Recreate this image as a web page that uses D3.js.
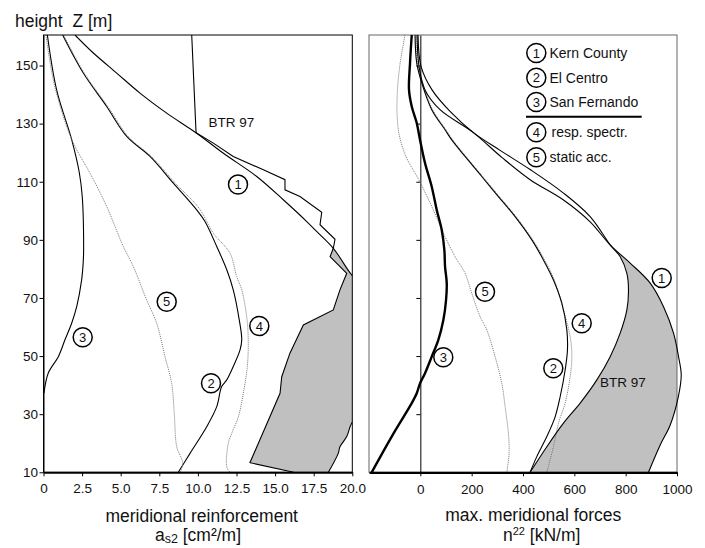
<!DOCTYPE html>
<html>
<head>
<meta charset="utf-8">
<script src="https://cdn.jsdelivr.net/npm/d3@7"></script>
<style>
  body { margin: 0; background: #fff; }
  svg { display: block; font-family: "Liberation Sans", Arial, sans-serif; }
</style>
</head>
<body>
<svg width="705" height="548"></svg>
<script>
// Heights (Z in m) and tick values
var zTicks = [10, 30, 50, 70, 90, 110, 130, 150];
var leftXTicks = [0, 2.5, 5, 7.5, 10, 12.5, 15, 17.5, 20];
var rightXTicks = [0, 200, 400, 600, 800, 1000];

// Left panel: meridional reinforcement a_s2 [cm2/m], pairs [value, Z]
var leftKern = [[2.04,160.5],[3.23,154.3],[4.74,147.4],[6.25,140.5],[7.98,133.6],[9.92,126.7],[11.65,119.8],[13.81,111.8],[15.53,103.8],[17.05,96.3],[17.69,92.9],[18.77,87.1],[19.96,77.9],[21.3,70],[22.3,58],[22.5,48],[21.8,36],[20.4,29],[19.96,26.9],[19.64,22.3],[19.2,18.8],[19.09,16.5],[18.45,10]];
var leftElCentro = [[1.24,160.5],[2.58,147.4],[4.09,135.9],[5.39,125.6],[6.9,118.7],[8.41,109.5],[9.92,100.3],[10.46,96.3],[11.22,87.7],[11.87,79.7],[12.29,72.8],[12.68,62.4],[12.84,55.6],[12.73,52.1],[12.29,46.4],[11.87,41.8],[11.54,39.5],[11.22,32.6],[10.57,25.7],[9.49,16.5],[8.73,10]];
var leftSanFernando = [[0.25,160.5],[0.85,141.6],[1.83,124.4],[2.32,113.1],[2.51,104.9],[2.6,87.7],[2.58,83.1],[2.47,76.2],[2.15,67],[1.83,61.4],[1.39,55.6],[0.96,49.8],[0.31,44.2],[0.03,37.3]];
var leftRespSpectr = [[1.3,160.5],[2.66,147.2],[4.18,135.8],[5.5,125.5],[7.0,118.6],[8.52,109.6],[10.1,100.7],[11.0,92.3],[12.08,85.4],[12.51,77.4],[12.84,72.8],[13.16,63.6],[13.26,55.6],[13.2,46.4],[12.94,37.2],[12.62,29.1],[12.19,23.4],[11.97,20],[11.87,11.9],[12.08,10]];
var leftStaticAcc = [[0.16,160.5],[0.63,145.1],[1.5,129],[2.15,121],[3.01,113],[4.09,101.5],[5.17,87.7],[5.82,80.8],[6.68,69.3],[7.33,61.3],[7.87,49.8],[8.3,40.6],[8.47,30.3],[8.63,18.8],[9.02,13.1],[8.84,10]];
var leftBTR = [[9.6,160.5],[9.88,126.9],[11.0,123.3],[12.29,118.7],[14.24,114.1],[15.64,110.7],[15.64,107.2],[16.61,104.9],[18.02,99.5],[17.91,95.2],[18.88,90.2],[18.77,87.1],[18.56,84.2],[19.64,78.5],[19.2,72.8],[18.77,65.9],[16.83,60.7],[15.96,51],[15.43,42.9],[15.32,37.2],[13.37,13.3],[16.2,10]];

// Right panel: max. meridional forces n22 [kN/m], pairs [value, Z]
var rightKern = [[-12.9,160.5],[-5.1,149.7],[18.3,141.6],[76.8,134.8],[205.5,127],[318.5,118.3],[427.7,110.7],[556.4,103.8],[661.6,96.2],[742,88],[817.6,82],[895.6,75.1],[947.5,67],[986.5,57.9],[1006,49.8],[1016.5,43.5],[1004.8,35.9],[973.6,26.3],[934.6,19.4],[889,10]];
var rightElCentro = [[-20.7,160.5],[-14,150.8],[5.5,144],[44.4,134.8],[96.3,127.9],[122.4,124.4],[174.3,118.7],[239.4,111.8],[304.1,104.9],[369.2,98],[434.4,90],[479.6,83.1],[518.6,76.2],[551.3,68.2],[570.8,59],[573.2,52.1],[564.2,45.2],[544.7,36],[525.2,29.1],[492.8,22.3],[453.8,15.4],[427.7,10]];
var rightSanFernando = [[-33.5,160.5],[-40.2,150.8],[-44.1,141.6],[-33.5,135.9],[-14,130.2],[-1.2,124.4],[18.3,116.4],[44.4,108.3],[63.9,100.3],[83.4,93.4],[93.6,86.5],[96.3,80.8],[102.9,75.1],[100.2,69.3],[89.7,62.4],[70.2,55.6],[44.4,49.8],[18.3,44.1],[-1.2,40.6],[-14,37.2],[-33.5,33.8],[-111.5,22.3],[-189.5,10]];
var rightRespSpectr = [[-18,160.5],[-11,150.8],[9,144],[48,134.8],[100,127.9],[126,124.4],[178,118.7],[243,111.8],[308,104.9],[373,98],[438,90],[484,83.1],[522,76.2],[557.6,65.9],[583.7,56.7],[590.3,49.8],[583.7,42.9],[564.2,33.8],[538.1,26.9],[518.6,18.8],[492.8,10]];
var rightStaticAcc = [[-59.7,160.5],[-80,150],[-90,140],[-90,132],[-82,126],[-55,118.5],[-5,110.5],[44.4,101.5],[96.3,91.1],[135.3,84.2],[174.3,78.5],[200.4,71.6],[232.8,63.6],[258.9,59],[291.3,49.8],[317.4,40.6],[330.3,32.6],[343.1,23.4],[345.8,16.5],[336.9,10]];
var rightBTR = [[-9,160.5],[2.7,149.7],[45.6,141.6],[115.8,134.2],[205.5,127],[310.8,120.8],[427.7,114.2],[557.6,106.1],[661.6,98],[742,88],[778.6,84.2],[804.7,78.5],[811,72.8],[804.7,65.9],[778.6,57.9],[739.6,49.8],[687.8,41.8],[622.7,33.8],[557.6,26.9],[492.8,18.8],[427.7,10]];

// Legend entries
var legendNames = ["Kern County", "El Centro", "San Fernando", "resp. spectr.", "static acc."];

var svg = d3.select("svg");
var font = '"Liberation Sans", Arial, sans-serif';

var y = d3.scaleLinear().domain([10, 160.5]).range([472.3, 35]);
var xL = d3.scaleLinear().domain([0, 20]).range([43.5, 352.3]);
var xR = d3.scaleLinear().domain([-200, 1000]).range([369, 677]);

var defs = svg.append("defs");
defs.append("clipPath").attr("id", "clipL").append("rect")
  .attr("x", xL(0)).attr("y", y(160.5)).attr("width", xL(20) - xL(0)).attr("height", y(10) - y(160.5));
defs.append("clipPath").attr("id", "clipR").append("rect")
  .attr("x", xR(-200)).attr("y", y(160.5)).attr("width", xR(1000) - xR(-200)).attr("height", y(10) - y(160.5));

function lineFor(x, curve) {
  return d3.line().x(d => x(d[0])).y(d => y(d[1])).curve(curve);
}

// gray area between BTR 97 and Kern County below their crossing
function envelope(x, btr, kern, zCross, btrCurve) {
  var a = btr.filter(d => d[1] <= zCross);
  var b = kern.filter(d => d[1] <= zCross).reverse();
  var p1 = lineFor(x, btrCurve)(a);
  var p2 = lineFor(x, d3.curveCatmullRom)(b);
  return p1 + "L" + p2.slice(1) + "Z";
}

// ---------- left panel ----------
var L = svg.append("g");
L.append("path")
  .attr("d", envelope(xL, leftBTR, leftKern, 87.1, d3.curveLinear))
  .attr("fill", "#c0c0c0").attr("stroke", "none")
  .attr("clip-path", "url(#clipL)");

var smoothL = lineFor(xL, d3.curveCatmullRom);
var linesL = L.append("g").attr("clip-path", "url(#clipL)").attr("fill", "none");
linesL.append("path").attr("d", lineFor(xL, d3.curveLinear)(leftBTR)).attr("stroke", "#000").attr("stroke-width", 1.1);
linesL.append("path").attr("d", smoothL(leftKern)).attr("stroke", "#000").attr("stroke-width", 1.1);
linesL.append("path").attr("d", smoothL(leftElCentro)).attr("stroke", "#000").attr("stroke-width", 1.1);
linesL.append("path").attr("d", smoothL(leftSanFernando)).attr("stroke", "#000").attr("stroke-width", 1.1);
linesL.append("path").attr("d", smoothL(leftRespSpectr)).attr("stroke", "#777").attr("stroke-width", 1).attr("stroke-dasharray", "1,1");
linesL.append("path").attr("d", smoothL(leftStaticAcc)).attr("stroke", "#777").attr("stroke-width", 1).attr("stroke-dasharray", "1,1");

L.append("rect")
  .attr("x", xL(0)).attr("y", y(160.5)).attr("width", xL(20) - xL(0)).attr("height", y(10) - y(160.5))
  .attr("fill", "none").attr("stroke", "#000").attr("stroke-width", 1);

var axL = L.append("g").attr("transform", "translate(" + xL(0) + ",0)")
  .call(d3.axisLeft(y).tickValues(zTicks).tickSize(4).tickSizeOuter(0).tickPadding(1.5));
var axLB = L.append("g").attr("transform", "translate(0," + y(10) + ")")
  .call(d3.axisBottom(xL).tickValues(leftXTicks).tickSize(4).tickSizeOuter(0).tickPadding(7)
    .tickFormat(d => d === 0 ? "0" : d.toFixed(1)));
axLB.select(".domain").attr("stroke-width", 2);

// ---------- right panel ----------
var R = svg.append("g");
R.append("path")
  .attr("d", envelope(xR, rightBTR, rightKern, 88, d3.curveCatmullRom))
  .attr("fill", "#c0c0c0").attr("stroke", "none")
  .attr("clip-path", "url(#clipR)");

R.append("rect")
  .attr("x", xR(-200)).attr("y", y(160.5)).attr("width", xR(1000) - xR(-200)).attr("height", y(10) - y(160.5))
  .attr("fill", "none").attr("stroke", "#666").attr("stroke-width", 1);

var axR0 = R.append("g").attr("transform", "translate(" + xR(0) + ",0)")
  .call(d3.axisLeft(y).tickValues(zTicks).tickSize(4).tickSizeOuter(0).tickFormat(""));

var smoothR = lineFor(xR, d3.curveCatmullRom);
var linesR = R.append("g").attr("fill", "none");
linesR.append("path").attr("d", smoothR(rightStaticAcc)).attr("stroke", "#777").attr("stroke-width", 1).attr("stroke-dasharray", "1,1");
linesR.append("path").attr("d", smoothR(rightRespSpectr)).attr("stroke", "#777").attr("stroke-width", 1).attr("stroke-dasharray", "1,1");
linesR.append("path").attr("d", smoothR(rightBTR)).attr("stroke", "#000").attr("stroke-width", 1.1);
linesR.append("path").attr("d", smoothR(rightKern)).attr("stroke", "#000").attr("stroke-width", 1.1);
linesR.append("path").attr("d", smoothR(rightElCentro)).attr("stroke", "#000").attr("stroke-width", 1.1);
linesR.append("path").attr("d", smoothR(rightSanFernando)).attr("stroke", "#000").attr("stroke-width", 2.4);

var axRB = R.append("g").attr("transform", "translate(0," + y(10) + ")")
  .call(d3.axisBottom(xR).tickValues(rightXTicks).tickSize(4).tickSizeOuter(0).tickPadding(8)
    .tickFormat(d3.format("d")));
axRB.select(".domain").attr("stroke-width", 2.2);

svg.selectAll(".tick text").attr("font-size", 13.5).attr("fill", "#111");
svg.selectAll(".tick line").attr("stroke", "#000");
svg.selectAll("g[font-family]").attr("font-family", font);

// ---------- circled labels ----------
function marker(g, cx, cy, label) {
  var m = g.append("g").attr("transform", "translate(" + cx + "," + cy + ")");
  m.append("circle").attr("r", 9.5).attr("fill", "#fff").attr("stroke", "#000").attr("stroke-width", 1.5);
  m.append("text").attr("text-anchor", "middle").attr("dy", "0.36em")
    .attr("font-size", 13).attr("fill", "#111").text(label);
}
marker(svg, 238, 184.5, "1");
marker(svg, 211, 383.3, "2");
marker(svg, 82.7, 337.3, "3");
marker(svg, 259.3, 326, "4");
marker(svg, 166.7, 301.7, "5");

marker(svg, 661.7, 278, "1");
marker(svg, 553.3, 368.3, "2");
marker(svg, 443.3, 357.3, "3");
marker(svg, 581.7, 323.3, "4");
marker(svg, 485, 291.7, "5");

svg.append("text").attr("x", 208.5).attr("y", 127).attr("font-size", 13.5).attr("fill", "#111").text("BTR 97");
svg.append("text").attr("x", 600).attr("y", 386.5).attr("font-size", 13.5).attr("fill", "#111").text("BTR 97");

// ---------- legend ----------
var legendY = [53, 77.7, 102, 132.3, 157.3];
legendNames.forEach(function (name, i) {
  marker(svg, 536.3, legendY[i], String(i + 1));
  svg.append("text").attr("x", i === 3 ? 551.5 : 549.5).attr("y", legendY[i]).attr("dy", "0.36em")
    .attr("font-size", 14).attr("fill", "#111").text(name);
});
svg.append("line").attr("x1", 526).attr("x2", 641.7).attr("y1", 116.7).attr("y2", 116.7)
  .attr("stroke", "#000").attr("stroke-width", 2);

// ---------- titles ----------
svg.append("text").attr("x", 15).attr("y", 26.5).attr("font-size", 17.5).attr("fill", "#111")
  .attr("xml:space", "preserve").text("height  Z [m]");

svg.append("text").attr("x", 201.7).attr("y", 521.5).attr("text-anchor", "middle")
  .attr("font-size", 17.5).attr("fill", "#111").text("meridional reinforcement");
var t1 = svg.append("text").attr("x", 198).attr("y", 540.5).attr("text-anchor", "middle")
  .attr("font-size", 17.5).attr("fill", "#111");
t1.append("tspan").text("a");
t1.append("tspan").attr("font-size", 12.5).attr("dy", 2.5).text("s2");
t1.append("tspan").attr("dy", -2.5).text(" [cm²/m]");

svg.append("text").attr("x", 533.3).attr("y", 520.5).attr("text-anchor", "middle")
  .attr("font-size", 17.5).attr("fill", "#111").text("max. meridional forces");
var t2 = svg.append("text").attr("x", 541.7).attr("y", 540.5).attr("text-anchor", "middle")
  .attr("font-size", 17.5).attr("fill", "#111");
t2.append("tspan").text("n");
t2.append("tspan").attr("font-size", 11).attr("dy", -5.5).text("22");
t2.append("tspan").attr("dy", 5.5).text(" [kN/m]");
</script>
</body>
</html>
